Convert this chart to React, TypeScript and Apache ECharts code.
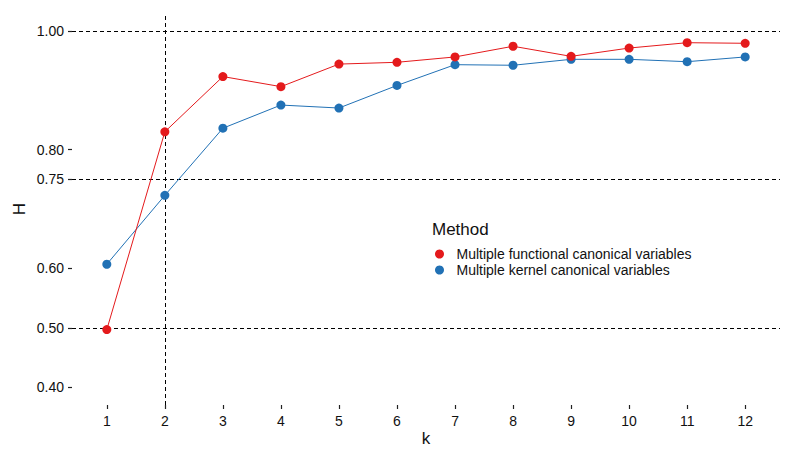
import React, { useEffect, useRef } from "react";
import * as echarts from "echarts";

const kValues = [1, 2, 3, 4, 5, 6, 7, 8, 9, 10, 11, 12];
const functionalH = [0.497, 0.830, 0.923, 0.906, 0.944, 0.947, 0.956, 0.974, 0.957, 0.971, 0.980, 0.979];
const kernelH = [0.607, 0.723, 0.836, 0.875, 0.870, 0.908, 0.943, 0.942, 0.952, 0.952, 0.948, 0.956];
const yTicks = [0.4, 0.5, 0.6, 0.75, 0.8, 1.0];
const hLines = [1.0, 0.75, 0.5];
const vLines = [2];
const seriesNames = ["Multiple functional canonical variables", "Multiple kernel canonical variables"];
const colors = ["#E41A1C", "#2171B5"];

const FONT = "Liberation Sans, Arial, Helvetica, sans-serif";

export default function App() {
  const ref = useRef<HTMLDivElement>(null);
  useEffect(() => {
    if (!ref.current) return;
    const chart = echarts.init(ref.current, undefined, { renderer: "svg" });
    const dash = { color: "#000", width: 1, type: [4, 3] as any };
    chart.setOption({
      animation: false,
      backgroundColor: "#fff",
      textStyle: { fontFamily: FONT },
      grid: { left: 64, right: 5, top: 5, bottom: 50, containLabel: false, outerBoundsMode: "none" },
      legend: {
        orient: "vertical",
        left: 422,
        top: 234,
        itemWidth: 24,
        itemHeight: 9,
        itemGap: 2,
        icon: "circle",
        textStyle: { fontFamily: FONT, fontSize: 14, color: "#111" },
        data: seriesNames,
      },
      graphic: [
        {
          type: "text",
          left: 424,
          top: 213,
          style: { text: "Method", font: `17px ${FONT}`, fill: "#111" },
        },
      ],
      xAxis: {
        type: "value",
        min: 0.4,
        max: 12.6,
        name: "k",
        nameLocation: "middle",
        nameGap: 25,
        nameMoveOverlap: false,
        nameTextStyle: { fontFamily: FONT, fontSize: 17, color: "#111" },
        axisLine: { show: false },
        splitLine: { show: false },
        axisTick: { show: true, length: 4, lineStyle: { color: "#222", width: 1.2 }, customValues: kValues },
        axisLabel: { color: "#111", fontSize: 14, fontFamily: FONT, margin: 9, customValues: kValues },
      },
      yAxis: {
        type: "value",
        min: 0.37,
        max: 1.03,
        name: "H",
        nameLocation: "middle",
        nameGap: 44,
        nameMoveOverlap: false,
        nameTextStyle: { fontFamily: FONT, fontSize: 17, color: "#111" },
        axisLine: { show: false },
        splitLine: { show: false },
        axisTick: { show: true, length: 4, lineStyle: { color: "#222", width: 1.2 }, customValues: yTicks },
        axisLabel: {
          color: "#111",
          fontSize: 14,
          fontFamily: FONT,
          margin: 8,
          customValues: yTicks,
          formatter: (v: number) => v.toFixed(2),
        },
      },
      series: [
        {
          name: seriesNames[0],
          type: "line",
          data: kValues.map((k, i) => [k, functionalH[i]]),
          symbol: "circle",
          symbolSize: 9,
          itemStyle: { color: colors[0] },
          lineStyle: { color: colors[0], width: 1 },
          z: 3,
          markLine: {
            silent: true,
            symbol: "none",
            label: { show: false },
            lineStyle: dash,
            data: [
              ...hLines.map((v) => ({ yAxis: v })),
              ...vLines.map((v) => ({ xAxis: v })),
            ],
            z: 1,
          },
        },
        {
          name: seriesNames[1],
          type: "line",
          data: kValues.map((k, i) => [k, kernelH[i]]),
          symbol: "circle",
          symbolSize: 9,
          itemStyle: { color: colors[1] },
          lineStyle: { color: colors[1], width: 1 },
          z: 2,
        },
      ],
    });
    return () => chart.dispose();
  }, []);
  return <div ref={ref} style={{ width: 777, height: 447 }} />;
}
